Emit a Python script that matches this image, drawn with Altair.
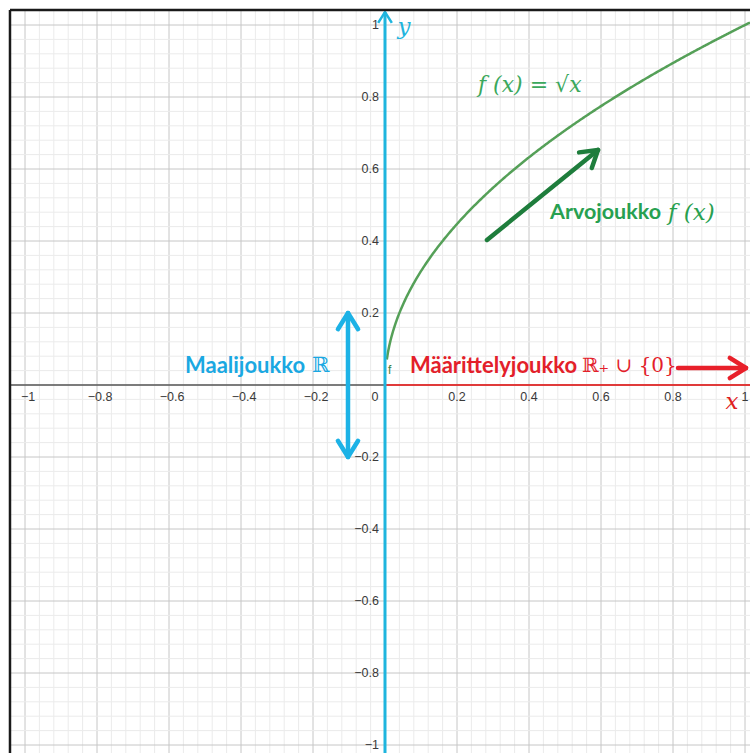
import altair as alt
import numpy as np
import pandas as pd

# ---- canvas geometry (pixels per unit, origin position) ----
PX = 360.0
ORIGIN_X, ORIGIN_Y = 385.0, 385.0
W, H = 750, 753
X_DOM = [-ORIGIN_X / PX, (W - ORIGIN_X) / PX]
Y_DOM = [-(H - ORIGIN_Y) / PX, ORIGIN_Y / PX]
FRAME_L = -1.0417   # left frame edge (x units)
FRAME_T = 1.0417    # top frame edge (y units)

# ---- axis ticks ----
major_ticks = [-1.0, -0.8, -0.6, -0.4, -0.2, 0.0, 0.2, 0.4, 0.6, 0.8, 1.0]
x_tick_labels = ["−1", "−0.8", "−0.6", "−0.4", "−0.2", "0", "0.2", "0.4", "0.6", "0.8", "1"]
y_tick_values = [-1.0, -0.8, -0.6, -0.4, -0.2, 0.2, 0.4, 0.6, 0.8, 1.0]
y_tick_labels = ["−1", "−0.8", "−0.6", "−0.4", "−0.2", "0.2", "0.4", "0.6", "0.8", "1"]
minor_per_major = 5

# ---- function f(x) = sqrt(x) ----
curve_x_start = 0.005
curve_x_end = X_DOM[1]

# ---- annotation arrows (start, end, double-headed?) ----
arrow_ids = ["arvo", "maar", "maali"]
arrow_start = [(0.2833, 0.4028), (0.8139, 0.0472), (-0.1028, -0.2)]
arrow_end = [(0.5917, 0.6528), (1.0028, 0.0472), (-0.1028, 0.2)]
arrow_double = [False, False, True]
arrow_color = ["#1E7D3C", "#E8202A", "#1CB2E6"]

# ---- colours ----
GRID_MINOR = "#ebebeb"
GRID_MAJOR = "#c6c6c6"
CYAN = "#1FB5DE"
CYAN_TEXT = "#1AA8E2"
RED = "#E3202A"
CURVE = "#55A058"
GREEN_TEXT = "#3BA85C"
GREEN_BOLD = "#27A050"

xs = alt.Scale(domain=X_DOM, nice=False, zero=False)
ys = alt.Scale(domain=Y_DOM, nice=False, zero=False)


def X(field="x"):
    return alt.X(f"{field}:Q", scale=xs, axis=None)


def Y(field="y"):
    return alt.Y(f"{field}:Q", scale=ys, axis=None)


# grid lines
minor_vals = []
for a, b in zip(major_ticks[:-1], major_ticks[1:]):
    minor_vals += list(np.linspace(a, b, minor_per_major + 1)[1:-1])

vgrid = pd.DataFrame(
    [{"x": v, "y": Y_DOM[0], "y2": FRAME_T, "kind": "minor"} for v in minor_vals]
    + [{"x": v, "y": Y_DOM[0], "y2": FRAME_T, "kind": "major"} for v in major_ticks]
)
hgrid = pd.DataFrame(
    [{"y": v, "x": FRAME_L, "x2": X_DOM[1], "kind": "minor"} for v in minor_vals]
    + [{"y": v, "x": FRAME_L, "x2": X_DOM[1], "kind": "major"} for v in major_ticks]
)
grid_color = alt.Color("kind:N", scale=alt.Scale(domain=["minor", "major"],
                                                 range=[GRID_MINOR, GRID_MAJOR]), legend=None)
grid_order = alt.Order("kind:N", sort="descending")

vlines = alt.Chart(vgrid).mark_rule(strokeWidth=1).encode(
    x=X(), y=Y(), y2="y2:Q", color=grid_color, order=grid_order)
hlines = alt.Chart(hgrid).mark_rule(strokeWidth=1).encode(
    y=Y(), x=X(), x2="x2:Q", color=grid_color, order=grid_order)

# axes
xaxis_neg = alt.Chart(pd.DataFrame({"x": [FRAME_L], "x2": [0.0], "y": [0.0]})).mark_rule(
    color="#5a5a5a", strokeWidth=1.5).encode(x=X(), x2="x2:Q", y=Y())
xaxis_pos = alt.Chart(pd.DataFrame({"x": [0.0], "x2": [X_DOM[1]], "y": [0.0]})).mark_rule(
    color="#E03A3A", strokeWidth=2).encode(x=X(), x2="x2:Q", y=Y())

y_top = 1.036
yaxis = alt.Chart(pd.DataFrame({"x": [0.0], "y": [Y_DOM[0]], "y2": [y_top]})).mark_rule(
    color=CYAN, strokeWidth=3).encode(x=X(), y=Y(), y2="y2:Q")
yaxis_head = alt.Chart(pd.DataFrame({
    "x": [-0.019, 0.0, 0.019], "y": [y_top - 0.03, y_top, y_top - 0.03], "o": [0, 1, 2]})
).mark_line(color=CYAN, strokeWidth=2.5).encode(x=X(), y=Y(), order="o:Q")

# tick labels
xt = pd.DataFrame({"x": major_ticks, "y": [0.0] * len(major_ticks), "t": x_tick_labels,
                   "neg": [v < 0 for v in major_ticks]})
xt_pos = xt[~xt["neg"] & (xt["x"] != 0)]
xt_neg = xt[xt["neg"]]
xt_zero = xt[xt["x"] == 0]
tick_font = dict(font="Liberation Sans", fontSize=12.5, color="#3a3a3a", baseline="middle")
xlab_pos = alt.Chart(xt_pos).mark_text(align="center", dy=12, **tick_font).encode(
    x=X(), y=Y(), text="t:N")
xlab_neg = alt.Chart(xt_neg).mark_text(align="center", dy=12, dx=3, **tick_font).encode(
    x=X(), y=Y(), text="t:N")
xlab_zero = alt.Chart(xt_zero).mark_text(align="center", dy=12, dx=-10, **tick_font).encode(
    x=X(), y=Y(), text="t:N")
yt = pd.DataFrame({"x": [0.0] * len(y_tick_values), "y": y_tick_values, "t": y_tick_labels})
ylab = alt.Chart(yt).mark_text(align="right", dx=-6, **tick_font).encode(
    x=X(), y=Y(), text="t:N")

# curve
cx = np.linspace(curve_x_start, curve_x_end, 300)
curve_df = pd.DataFrame({"x": cx, "y": np.sqrt(cx)})
curve = alt.Chart(curve_df).mark_line(color=CURVE, strokeWidth=2.5, clip=True).encode(
    x=X(), y=Y(), order="x:Q")


# arrows: shaft plus chevron head(s)
def chevron(tip, tail, length=0.045, half=0.028):
    tip = np.array(tip)
    d = tip - np.array(tail)
    d = d / np.linalg.norm(d)
    n = np.array([-d[1], d[0]])
    base = tip - d * length
    return [tuple(base + n * half), tuple(tip), tuple(base - n * half)]


arrow_rows = []
for aid, s, e, dbl, col in zip(arrow_ids, arrow_start, arrow_end, arrow_double, arrow_color):
    segs = [[s, e], chevron(e, s)]
    if dbl:
        segs.append(chevron(s, e))
    for k, seg in enumerate(segs):
        for o, (px_, py_) in enumerate(seg):
            arrow_rows.append({"id": f"{aid}-{k}", "x": px_, "y": py_, "o": o, "col": col})
arrow_df = pd.DataFrame(arrow_rows)
arrows = alt.Chart(arrow_df).mark_line(strokeWidth=4.5, strokeCap="round",
                                        strokeJoin="round").encode(
    x=X(), y=Y(), detail="id:N", order="o:Q",
    color=alt.Color("col:N", scale=None))

# frame (top and left edges)
frame_top = alt.Chart(pd.DataFrame({"x": [FRAME_L], "x2": [X_DOM[1]], "y": [FRAME_T]})).mark_rule(
    color="#1a1a1a", strokeWidth=2.5).encode(x=X(), x2="x2:Q", y=Y())
frame_left = alt.Chart(pd.DataFrame({"x": [FRAME_L], "y": [Y_DOM[0]], "y2": [FRAME_T]})).mark_rule(
    color="#1a1a1a", strokeWidth=2.5).encode(x=X(), y=Y(), y2="y2:Q")


# text labels
def label(text, x, y, color, font, size, weight="normal", style="normal", align="left"):
    return alt.Chart(pd.DataFrame({"x": [x], "y": [y], "t": [text]})).mark_text(
        align=align, baseline="middle", font=font, fontSize=size, fontWeight=weight,
        fontStyle=style, color=color).encode(x=X(), y=Y(), text="t:N")


texts = [
    label("f (x) = √x", 0.2583, 0.8333, GREEN_TEXT, "DejaVu Serif", 22, style="italic"),
    label("Arvojoukko", 0.4583, 0.4778, GREEN_BOLD, "Lato", 21.5, weight="bold"),
    label("f (x)", 0.7861, 0.4778, GREEN_BOLD, "DejaVu Serif", 23, style="italic"),
    label("Määrittelyjoukko", 0.0694, 0.0528, RED, "Lato", 22, weight="bold"),
    label("ℝ₊ ∪ {0}", 0.5472, 0.0528, RED, "DejaVu Serif", 20),
    label("Maalijoukko", -0.5556, 0.0528, CYAN_TEXT, "Lato", 22, weight="bold"),
    label("ℝ", -0.2028, 0.0528, CYAN_TEXT, "DejaVu Serif", 21),
    label("y", 0.0528, 0.9944, CYAN, "DejaVu Serif", 23, style="italic", align="center"),
    label("x", 0.9639, -0.0472, "#E02020", "DejaVu Serif", 23, style="italic", align="center"),
    label("f", 0.0083, 0.0417, "#3E7F42", "Liberation Sans", 12),
]

chart = alt.layer(
    vlines, hlines, xaxis_neg, xaxis_pos, curve, yaxis, yaxis_head,
    xlab_pos, xlab_neg, xlab_zero, ylab, arrows, *texts, frame_top, frame_left,
).properties(
    width=W, height=H,
    autosize=alt.AutoSizeParams(type="none"),
    padding=0,
    background="white",
).configure_view(stroke=None)

chart.save("out.html", embed_options={"renderer": "svg", "actions": False})
